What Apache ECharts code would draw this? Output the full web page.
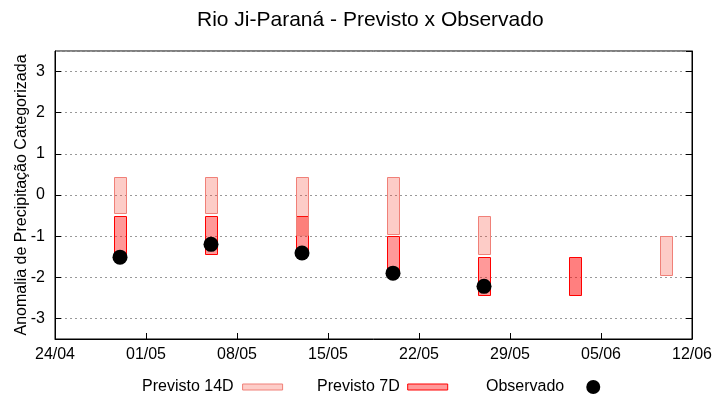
<!DOCTYPE html>
<html><head><meta charset="utf-8">
<script src="https://cdn.jsdelivr.net/npm/echarts@6/dist/echarts.min.js"></script>
<style>html,body{margin:0;padding:0;background:#fff}#c{width:720px;height:400px}</style>
</head><body><div id="c"></div>
<script>
const titleText = 'Rio Ji-Paraná - Previsto x Observado';
const yAxisName = 'Anomalia de Precipitação Categorizada';
const startDate = '2025-04-24';
const endDate = '2025-06-12';
const dates = ['2025-04-29','2025-05-06','2025-05-13','2025-05-20','2025-05-27','2025-06-03','2025-06-10'];
const prev14Low  = [-0.44, -0.44, -0.97, -0.95, -1.44, null, -1.95];
const prev14High = [ 0.44,  0.44,  0.44,  0.44, -0.51, null, -1.00];
const prev7Low   = [-1.44, -1.44, -1.44, -1.95, -2.44, -2.44, null];
const prev7High  = [-0.51, -0.51, -0.51, -1.00, -1.51, -1.51, null];
const observed   = [-1.51, -1.20, -1.41, -1.90, -2.22, null, null];
const seriesNames = ['Previsto 14D', 'Previsto 7D', 'Observado'];

const DAY = 86400000;
const t0 = Date.parse(startDate + 'T00:00:00Z');
const dayOf = s => Math.round((Date.parse(s + 'T00:00:00Z') - t0) / DAY);
const xMax = dayOf(endDate);
const fmtDay = d => {
  const dt = new Date(t0 + d * DAY);
  const dd = String(dt.getUTCDate()).padStart(2, '0');
  const mm = String(dt.getUTCMonth() + 1).padStart(2, '0');
  return dd + '/' + mm;
};

const boxData = (lo, hi) => dates.map((d, i) => lo[i] == null ? null : [dayOf(d), lo[i], hi[i], i]).filter(v => v);
const obsData = dates.map((d, i) => observed[i] == null ? null : [dayOf(d), observed[i]]).filter(v => v);

const FONT = "'Liberation Sans', Arial, sans-serif";
const C14 = { fill: 'rgba(247,55,35,0.255)', stroke: '#f08078' };
const C7 = { fill: 'rgba(255,0,0,0.4)', fillNoObs: 'rgba(255,0,0,0.5)', stroke: '#ff0000' };

function boxRenderer(c) {
  return function (params, api) {
    const x = api.value(0), lo = api.value(1), hi = api.value(2), idx = api.value(3);
    const w = api.size([0.92, 0])[0];
    const pt = api.coord([x, hi]);
    const pb = api.coord([x, lo]);
    const fill = (c.fillNoObs && observed[idx] == null) ? c.fillNoObs : c.fill;
    return {
      type: 'rect',
      shape: { x: Math.round(pt[0] - w / 2) + 0.5, y: Math.round(pt[1]) + 0.5, width: Math.round(w), height: Math.round(pb[1] - pt[1]) },
      style: { fill: fill, stroke: c.stroke, lineWidth: 1 }
    };
  };
}

const legendText = { fontSize: 16, fontFamily: FONT, color: '#000' };
const option = {
  backgroundColor: '#fff',
  animation: false,
  title: { text: titleText, left: 197, top: 10, padding: 0, textStyle: { fontSize: 21, fontWeight: 'normal', fontFamily: FONT, color: '#000' } },
  grid: { left: 55, right: 28, top: 51, bottom: 61, outerBoundsMode: 'none', containLabel: false, show: true, borderColor: '#000', borderWidth: 1, backgroundColor: 'transparent' },
  legend: [
    { left: 142, top: 379, padding: 0, align: 'right', itemWidth: 40, itemHeight: 6, selectedMode: false,
      data: [{ name: seriesNames[0], icon: 'rect', itemStyle: { color: '#fdcdc8', borderColor: '#f08078', borderWidth: 1 } }],
      textStyle: Object.assign({ padding: [0, 4, 0, 0] }, legendText) },
    { left: 317, top: 379, padding: 0, align: 'right', itemWidth: 40, itemHeight: 6, selectedMode: false,
      data: [{ name: seriesNames[1], icon: 'rect', itemStyle: { color: '#ff9999', borderColor: '#ff0000', borderWidth: 1 } }],
      textStyle: Object.assign({ padding: [0, 3, 0, 0] }, legendText) },
    { left: 486, top: 379, padding: 0, align: 'right', itemWidth: 14, itemHeight: 14, selectedMode: false,
      data: [{ name: seriesNames[2], icon: 'circle', itemStyle: { color: '#000', opacity: 1 } }],
      textStyle: Object.assign({ padding: [0, 17, 0, 0] }, legendText) }
  ],
  xAxis: {
    type: 'value', min: 0, max: xMax, interval: 7,
    axisLine: { show: true, onZero: false, lineStyle: { color: '#000', width: 1 } },
    axisTick: { show: true, inside: true, length: 6, lineStyle: { color: '#000' } },
    axisLabel: { formatter: v => fmtDay(v), fontSize: 16, fontFamily: FONT, color: '#000', margin: 8 },
    splitLine: { show: false }
  },
  yAxis: [
    {
      type: 'value', min: -3.5, max: 3.5, splitNumber: 7,
      name: yAxisName, nameLocation: 'middle', nameGap: 25, nameRotate: 90, nameMoveOverlap: false,
      nameTextStyle: { fontSize: 16, fontFamily: FONT, color: '#000' },
      axisLine: { show: true, onZero: false, lineStyle: { color: '#000', width: 1 } },
      axisTick: { show: true, inside: true, length: 6, lineStyle: { color: '#000' } },
      axisLabel: { showMinLabel: false, showMaxLabel: false, formatter: v => Number.isInteger(v) ? String(v) : '', fontSize: 16, fontFamily: FONT, color: '#000', margin: 10 },
      splitLine: { show: true, lineStyle: { color: '#999', width: 1, type: [2, 3] } }
    },
    {
      type: 'value', min: -3.5, max: 3.5, splitNumber: 7, position: 'right',
      axisLine: { show: true, onZero: false, lineStyle: { color: '#000', width: 1 } },
      axisTick: { show: true, inside: true, length: 6, lineStyle: { color: '#000' } },
      axisLabel: { show: false }, splitLine: { show: false }
    }
  ],
  series: [
    { name: seriesNames[1], type: 'custom', renderItem: boxRenderer(C7), data: boxData(prev7Low, prev7High),
      encode: { x: 0, y: [1, 2] }, itemStyle: { color: '#ff9999', borderColor: '#ff0000' }, z: 2 },
    { name: seriesNames[0], type: 'custom', renderItem: boxRenderer(C14), data: boxData(prev14Low, prev14High),
      encode: { x: 0, y: [1, 2] }, itemStyle: { color: '#fdcdc8', borderColor: '#f08078' }, z: 3 },
    { name: seriesNames[2], type: 'scatter', data: obsData, symbol: 'circle', symbolSize: 15,
      itemStyle: { color: '#000', opacity: 1 }, z: 5 }
  ]
};
const chart = echarts.init(document.getElementById('c'), null, { renderer: 'canvas' });
chart.setOption(option);
</script></body></html>
